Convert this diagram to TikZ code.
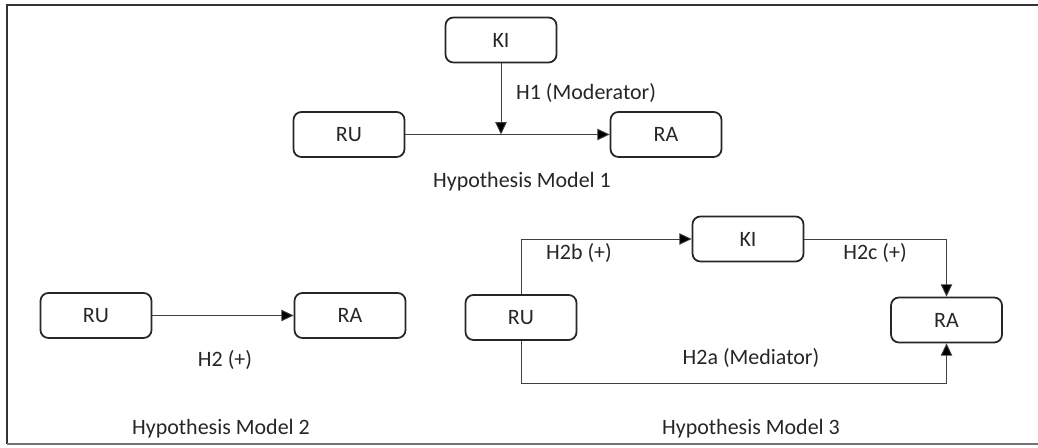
\documentclass[tikz,border=0pt]{standalone}
\usepackage{fontspec}
\setmainfont{Carlito}
\usetikzlibrary{positioning}
\usetikzlibrary{arrows.meta}

\begin{document}
\begin{tikzpicture}[x=0.02cm, y=-0.02cm,
	var/.style={draw=black!85, rounded corners=4.5pt, line width=1pt, minimum width=2.22cm, minimum height=0.9cm, font=\fontsize{12.5}{15}\selectfont, text=black!85},
	link/.style={-{Triangle[length=7pt,width=6.5pt,fill=black]}, line width=0.5pt, draw=black!75},
	lbl/.style={font=\fontsize{12.5}{15}\selectfont, text=black!85}]
	\useasboundingbox (0,0) rectangle (1038,448);
	% frame
	\coordinate (f1) at (1038,5);
	\coordinate (f2) at (7,5);
	\coordinate (f3) at (7,444);
	\coordinate (f4) at (1038,444);
	\draw[line width=1.1pt, black!80] (f1) -- (f2) -- (f3);
	\draw[line width=0.9pt, black!55] (f3) -- (f4);
	% model 1
	\node[var] (ki1) at (501,40) {KI};
	\node[var] (ru1) at (349,134.5) {RU};
	\node[var] (ra1) at (666,134.5) {RA};
	\draw[link] (ru1) -- (ra1);
	\coordinate (m1) at (ki1.south |- ru1.east);
	\draw[link] (ki1) -- (m1);
	\node[lbl, anchor=west] (h1) at (510,93) {H1 (Moderator)};
	\node[lbl] (hm1) at (522,182) {Hypothesis Model 1};
	% model 2
	\node[var] (ru2) at (96,315.5) {RU};
	\node[var] (ra2) at (350,315.5) {RA};
	\draw[link] (ru2) -- (ra2);
	\node[lbl] (h2) at (225,360) {H2 (+)};
	\node[lbl] (hm2) at (221,429) {Hypothesis Model 2};
	% model 3
	\node[var] (ru3) at (521,317.5) {RU};
	\node[var] (ki3) at (748,239) {KI};
	\node[var] (ra3) at (946.5,320) {RA};
	\draw[link] (ru3.north) |- (ki3.west);
	\draw[link] (ki3.east) -| (ra3.north);
	\coordinate (c3) at (521,383);
	\draw[link] (ru3.south) -- (c3) -| (ra3.south);
	\node[lbl] (h2b) at (579,253) {H2b (+)};
	\node[lbl] (h2c) at (875,253) {H2c (+)};
	\node[lbl] (h2a) at (751,358) {H2a (Mediator)};
	\node[lbl] (hm3) at (751,429) {Hypothesis Model 3};
\end{tikzpicture}
\end{document}
